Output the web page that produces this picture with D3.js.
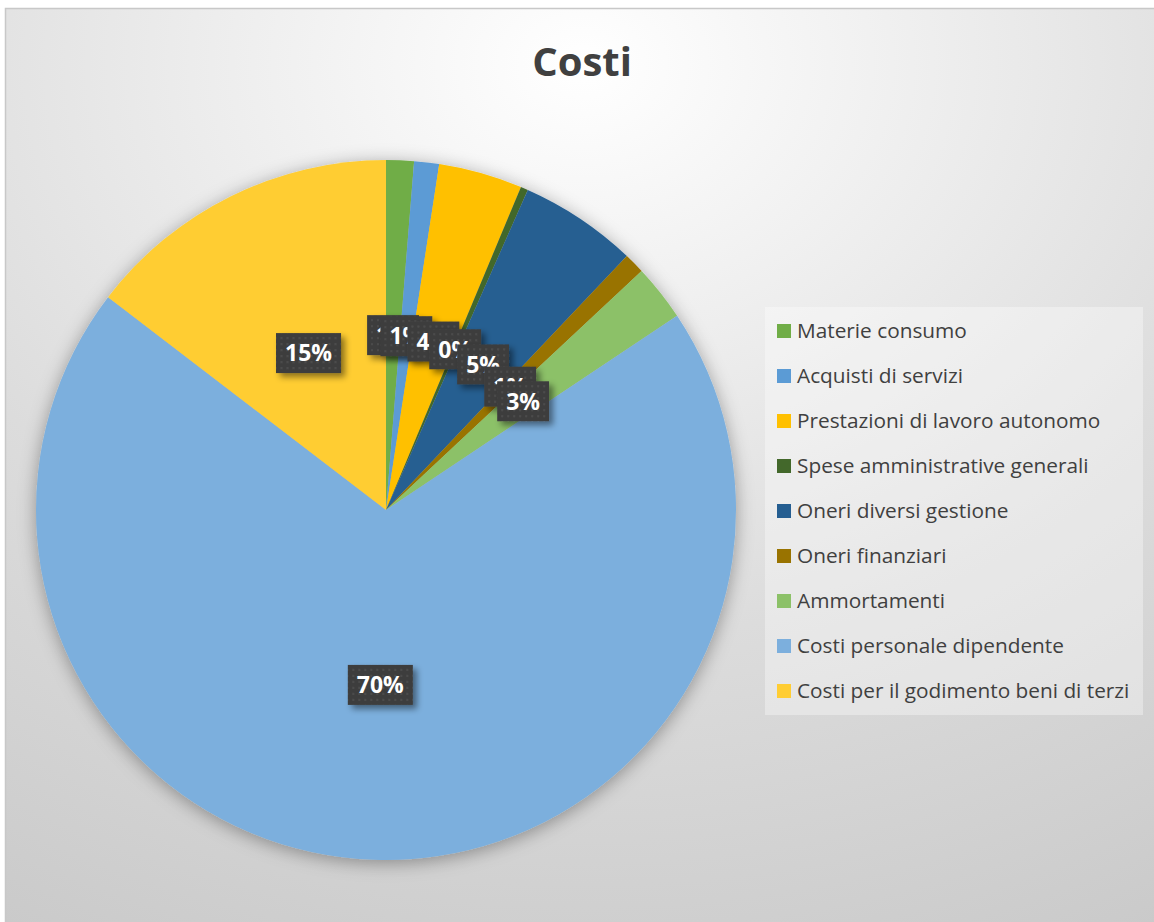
<!DOCTYPE html>
<html>
<head>
<meta charset="utf-8">
<script src="https://cdn.jsdelivr.net/npm/d3@7"></script>
<style>
  html, body { margin: 0; padding: 0; background: #fff; }
  svg { display: block; }
</style>
</head>
<body>
<svg id="chart" width="1154" height="922"></svg>
<script>
// Costi — pie with Excel-style dark data labels and a legend on the right.

const categories = [
  "Materie consumo",
  "Acquisti di servizi",
  "Prestazioni di lavoro autonomo",
  "Spese amministrative generali",
  "Oneri diversi gestione",
  "Oneri finanziari",
  "Ammortamenti",
  "Costi personale dipendente",
  "Costi per il godimento beni di terzi",
];
const values = [1.28, 1.15, 3.87, 0.34, 5.44, 0.95, 2.6, 69.77, 14.6];
const colors = ["#70AD47", "#5B9BD5", "#FFC000", "#43682B", "#255E91",
                "#997300", "#8CC168", "#7CAFDD", "#FFCD33"];

const W = 1154, H = 922;
const svg = d3.select("#chart");
const defs = svg.append("defs");

// background gradient
const bg = defs.append("radialGradient").attr("id", "bg")
  .attr("cx", 0.5).attr("cy", 0.06).attr("r", 1.25).attr("fx", 0.5).attr("fy", 0.06);
bg.append("stop").attr("offset", 0).attr("stop-color", "#ffffff");
bg.append("stop").attr("offset", 0.5).attr("stop-color", "#dcdcdc");
bg.append("stop").attr("offset", 0.75).attr("stop-color", "#cfcfcf");
bg.append("stop").attr("offset", 1).attr("stop-color", "#c2c2c2");

// shadows
const pieShadow = defs.append("filter").attr("id", "pieShadow")
  .attr("x", "-20%").attr("y", "-20%").attr("width", "140%").attr("height", "140%");
pieShadow.append("feDropShadow").attr("dx", 0).attr("dy", 3)
  .attr("stdDeviation", 9).attr("flood-color", "#000").attr("flood-opacity", 0.35);

const boxShadow = defs.append("filter").attr("id", "boxShadow")
  .attr("x", "-30%").attr("y", "-30%").attr("width", "170%").attr("height", "170%");
boxShadow.append("feDropShadow").attr("dx", 4).attr("dy", 4)
  .attr("stdDeviation", 3).attr("flood-color", "#000").attr("flood-opacity", 0.45);

// dotted texture for label boxes
const pat = defs.append("pattern").attr("id", "dots")
  .attr("patternUnits", "userSpaceOnUse").attr("width", 6).attr("height", 6);
pat.append("rect").attr("width", 6).attr("height", 6).attr("fill", "#3e3e3e");
pat.append("rect").attr("x", 2).attr("y", 2).attr("width", 2).attr("height", 2).attr("fill", "#4c4c4c");

// chart area
svg.append("rect").attr("x", 5.5).attr("y", 8.5).attr("width", W).attr("height", H)
  .attr("fill", "url(#bg)").attr("stroke", "#c8c8c8").attr("stroke-width", 1.5);

// title
svg.append("text").text("Costi")
  .attr("x", 582).attr("y", 76).attr("text-anchor", "middle")
  .attr("fill", "#404040")
  .style("font", "bold 40px 'Open Sans', 'Noto Sans', sans-serif");

// pie
const cx = 386, cy = 510, R = 350, labelR = 175;
const pie = d3.pie().sort(null).value(d => d)(values);
const arc = d3.arc().innerRadius(0).outerRadius(R);
const pieG = svg.append("g").attr("transform", `translate(${cx},${cy})`);

pieG.append("g").attr("filter", "url(#pieShadow)")
  .selectAll("path").data(pie).join("path")
  .attr("d", arc).attr("fill", (d, i) => colors[i]);

// labels
const total = d3.sum(values);
const fmt = v => Math.round(v / total * 100) + "%";
const labelArc = d3.arc().innerRadius(labelR).outerRadius(labelR);
const labG = pieG.append("g");
pie.forEach((d, i) => {
  const [lx, ly] = labelArc.centroid(d);
  const g = labG.append("g").attr("transform", `translate(${lx},${ly})`);
  const box = g.append("rect").attr("fill", "url(#dots)").attr("filter", "url(#boxShadow)");
  const t = g.append("text").text(fmt(d.value))
    .attr("text-anchor", "middle").attr("dy", "0.36em")
    .attr("fill", "#fff")
    .style("font", "bold 23px 'Open Sans', 'Noto Sans', sans-serif");
  const tw = t.node().getComputedTextLength();
  const bw = tw + 18, bh = 40;
  box.attr("x", -bw / 2).attr("y", -bh / 2).attr("width", bw).attr("height", bh);
});

// legend
const legX = 765, legY = 307, legW = 378, legH = 408, rowH = 45;
svg.append("rect").attr("x", legX).attr("y", legY).attr("width", legW).attr("height", legH)
  .attr("fill", "rgba(255,255,255,0.35)");
const leg = svg.append("g").selectAll("g").data(categories).join("g")
  .attr("transform", (d, i) => `translate(${legX + 12},${legY + 24 + i * rowH})`);
leg.append("rect").attr("x", 0).attr("y", -7).attr("width", 14).attr("height", 14)
  .attr("fill", (d, i) => colors[i]);
leg.append("text").text(d => d)
  .attr("x", 20).attr("dy", "0.35em").attr("fill", "#404040")
  .style("font", "20.8px 'Open Sans', 'Noto Sans', sans-serif");
</script>
</body>
</html>
